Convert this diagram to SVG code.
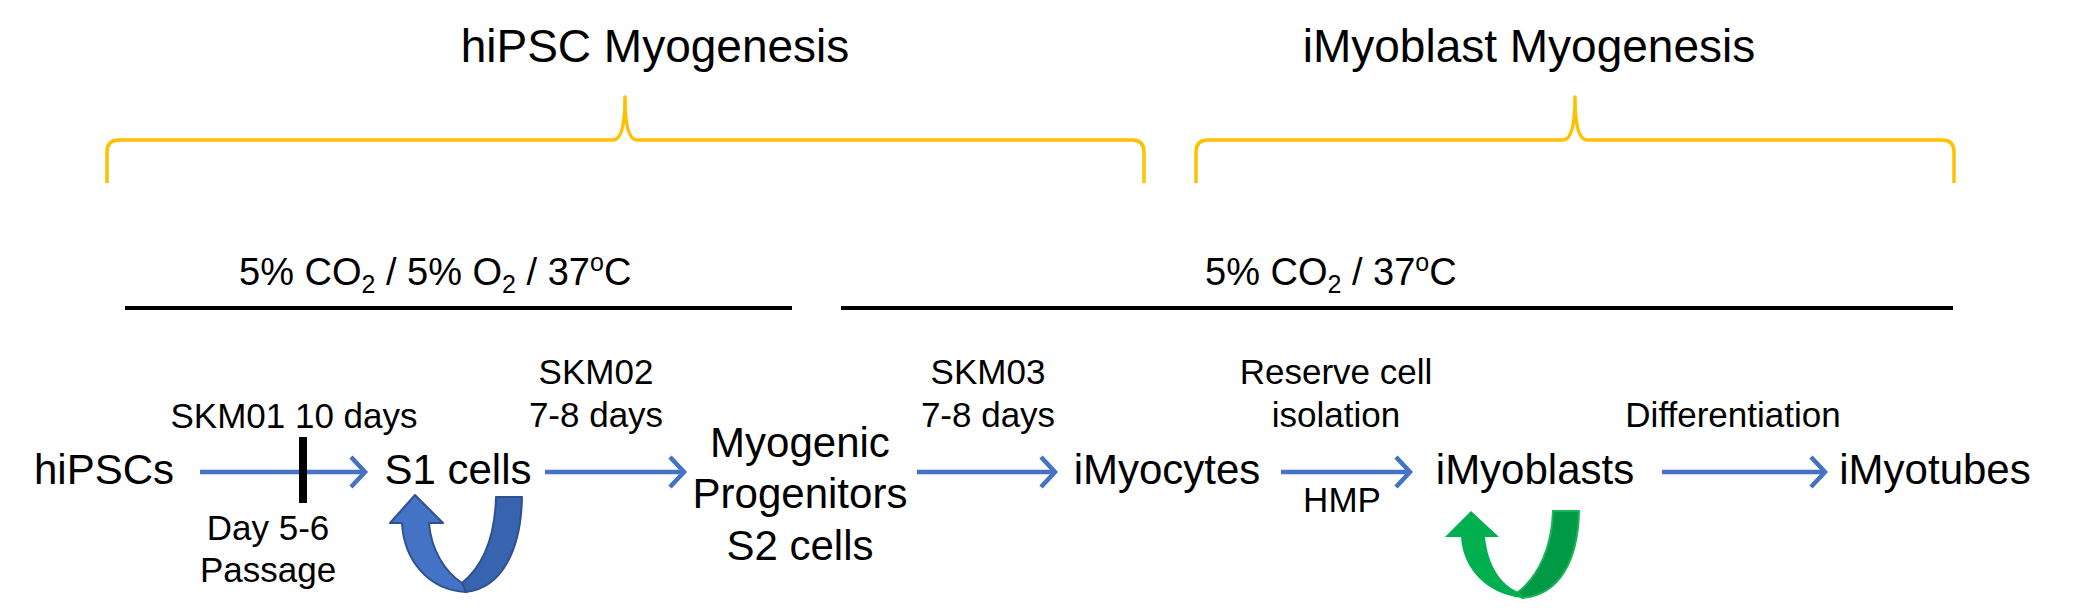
<svg xmlns="http://www.w3.org/2000/svg" width="2077" height="614" viewBox="0 0 2077 614">
<style>
text{font-family:"Liberation Sans",Arial,Helvetica,sans-serif;fill:#000}
.title{font-size:46px}
.node{font-size:42px}
.lbl{font-size:35px}
.cond{font-size:38px}
.sub{font-size:25px}
.brace{fill:none;stroke:#FFC000;stroke-width:3.5;stroke-linejoin:round}
.bar{stroke:#000;stroke-width:4}
.conn{stroke:#4472C4;stroke-width:4.5;fill:none}
</style>
<defs>
<marker id="chev" markerUnits="userSpaceOnUse" markerWidth="30" markerHeight="40" viewBox="-20 -20 30 40" refX="0" refY="0" orient="auto">
<path d="M-14,-15 L0,0 L-14,15" fill="none" stroke="#4472C4" stroke-width="4.5" stroke-linejoin="miter"/>
</marker>
</defs>
<rect width="2077" height="614" fill="#fff"/>

<g id="header-hipsc">
<text class="title" x="655" y="62" text-anchor="middle">hiPSC Myogenesis</text>
<path class="brace" d="M107,183 L107,152 Q107,140 119,140 L613,140 Q625,140 625,97 Q625,140 637,140 L1132,140 Q1144,140 1144,152 L1144,183"/>
</g>
<g id="header-imyoblast">
<text class="title" x="1529" y="62" text-anchor="middle">iMyoblast Myogenesis</text>
<path class="brace" d="M1196,183 L1196,152 Q1196,140 1208,140 L1563,140 Q1575,140 1575,97 Q1575,140 1587,140 L1942,140 Q1954,140 1954,152 L1954,183"/>
</g>

<g id="cond-hypoxia">
<text class="cond" x="239" y="285">5% CO<tspan class="sub" dy="8">2</tspan><tspan dy="-8"> / 5% O</tspan><tspan class="sub" dy="8">2</tspan><tspan dy="-8"> / 37</tspan><tspan class="sub" dy="-14">o</tspan><tspan dy="14">C</tspan></text>
<line class="bar" x1="125" y1="308" x2="792" y2="308"/>
</g>
<g id="cond-normoxia">
<text class="cond" x="1205" y="285">5% CO<tspan class="sub" dy="8">2</tspan><tspan dy="-8"> / 37</tspan><tspan class="sub" dy="-14">o</tspan><tspan dy="14">C</tspan></text>
<line class="bar" x1="841" y1="308" x2="1953" y2="308"/>
</g>

<g id="node-hipscs"><text class="node" x="104" y="484" text-anchor="middle">hiPSCs</text></g>
<g id="node-s1"><text class="node" x="458" y="484" text-anchor="middle">S1 cells</text></g>
<g id="node-s2">
<text class="node" x="800" y="457" text-anchor="middle">Myogenic</text>
<text class="node" x="800" y="508" text-anchor="middle">Progenitors</text>
<text class="node" x="800" y="560" text-anchor="middle">S2 cells</text>
</g>
<g id="node-imyocytes"><text class="node" x="1167" y="484" text-anchor="middle">iMyocytes</text></g>
<g id="node-imyoblasts"><text class="node" x="1535" y="484" text-anchor="middle">iMyoblasts</text></g>
<g id="node-imyotubes"><text class="node" x="1935" y="484" text-anchor="middle">iMyotubes</text></g>

<g id="connectors">
<line class="conn" x1="200" y1="472" x2="365" y2="472" marker-end="url(#chev)"/>
<line class="conn" x1="545" y1="472" x2="684" y2="472" marker-end="url(#chev)"/>
<line class="conn" x1="917" y1="472" x2="1055" y2="472" marker-end="url(#chev)"/>
<line class="conn" x1="1281" y1="472" x2="1410" y2="472" marker-end="url(#chev)"/>
<line class="conn" x1="1662" y1="472" x2="1825" y2="472" marker-end="url(#chev)"/>
<rect x="299" y="437" width="8" height="66" fill="#000"/>
</g>

<g id="labels">
<text class="lbl" x="294" y="428" text-anchor="middle">SKM01 10 days</text>
<text class="lbl" x="268" y="540" text-anchor="middle">Day 5-6</text>
<text class="lbl" x="268" y="582" text-anchor="middle">Passage</text>
<text class="lbl" x="596" y="384" text-anchor="middle">SKM02</text>
<text class="lbl" x="596" y="427" text-anchor="middle">7-8 days</text>
<text class="lbl" x="988" y="384" text-anchor="middle">SKM03</text>
<text class="lbl" x="988" y="427" text-anchor="middle">7-8 days</text>
<text class="lbl" x="1336" y="384" text-anchor="middle">Reserve cell</text>
<text class="lbl" x="1336" y="427" text-anchor="middle">isolation</text>
<text class="lbl" x="1342" y="512" text-anchor="middle">HMP</text>
<text class="lbl" x="1733" y="427" text-anchor="middle">Differentiation</text>
</g>

<g id="loop-s1">
<path d="M462,583 C484,565 495,535 496,497 L522,497 C521,548 503,588 466,592 Z" fill="#3863AE" stroke="#2F528F" stroke-width="2" stroke-linejoin="round"/>
<path d="M402,523 L390,523 L415,495 L443,523 L429,523 C431,550 445,572 462,583 L466,592 C428,590 404,560 402,523 Z" fill="#4472C4" stroke="#2F528F" stroke-width="2" stroke-linejoin="round"/>
</g>
<g id="loop-imyoblasts">
<path d="M1518,592 C1540,575 1552,545 1553,511 L1579,511 C1578,560 1560,595 1522,598 Z" fill="#009A46" stroke="#1DB35A" stroke-width="2" stroke-linejoin="round"/>
<path d="M1461,537 L1445,537 L1471,511 L1499,537 L1485,537 C1488,565 1500,584 1518,592 L1522,598 C1488,594 1463,570 1461,537 Z" fill="#00B050"/>
</g>
</svg>
